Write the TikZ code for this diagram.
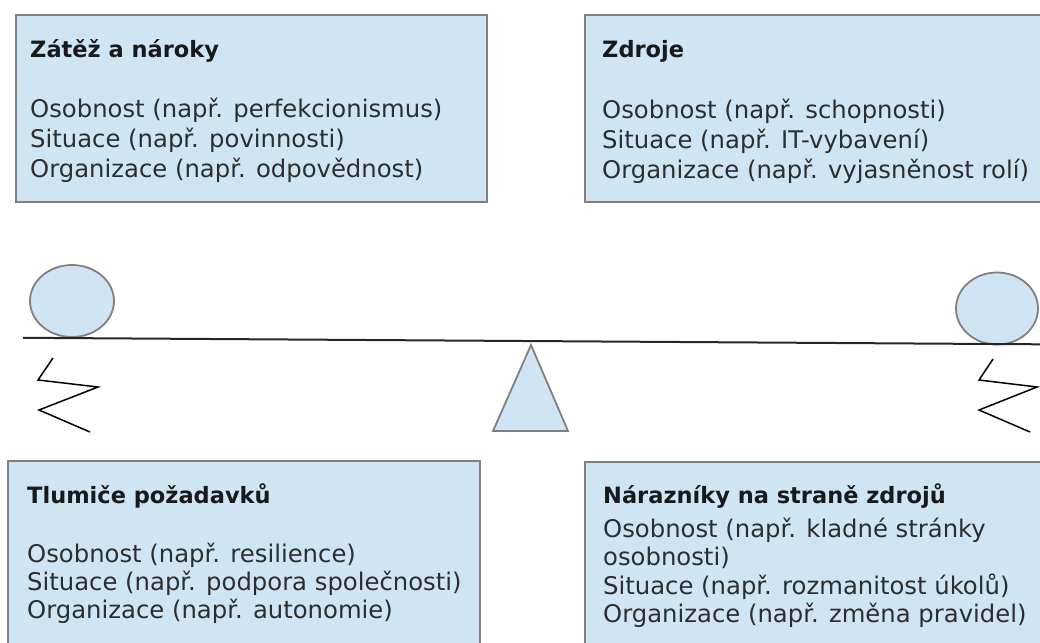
\documentclass[tikz,border=0pt]{standalone}
\usepackage{fontspec}
\setmainfont{DejaVu Sans}
\usetikzlibrary{positioning}

\definecolor{boxblue}{RGB}{207,229,243}
\definecolor{boxgray}{RGB}{128,128,128}
\definecolor{textgray}{RGB}{45,45,45}

\newcommand{\radky}[1]{\begin{tabular}[t]{@{}l@{}}#1\end{tabular}}

\begin{document}
\begin{tikzpicture}[x=1pt,y=-1pt,
    box/.style={draw=boxgray,fill=boxblue,line width=1.8pt,anchor=north west,inner sep=0pt},
    nadpis/.style={anchor=base west,inner sep=0pt,text=black!90,
      font=\fontsize{22.5}{27}\selectfont\bfseries},
    popis/.style={anchor=base west,inner sep=0pt,text=textgray,
      font=\fontsize{24.3}{30}\selectfont},
    uzky/.style={font=\fontsize{24.3}{28.3}\selectfont},
    koule/.style={draw=boxgray,fill=boxblue,line width=1.8pt},
    pruzina/.style={draw=black,line width=1.5pt},
    trám/.style={draw=black!85,line width=2pt}]
  \useasboundingbox (0,0) rectangle (1040,642);

  % boxes
  \node[box,minimum width=471pt,minimum height=187pt] (zatez)     at (15,14)  {};
  \node[box,minimum width=458pt,minimum height=187pt] (zdroje)    at (584,14) {};
  \node[box,minimum width=472pt,minimum height=186pt] (tlumice)   at (7,460)  {};
  \node[box,minimum width=458pt,minimum height=185pt] (narazniky) at (584,461) {};

  \node[nadpis] (zatezNadpis) at ([shift={(15,44)}]zatez.north west) {Zátěž a nároky};
  \node[popis]  (zatezText)   at ([shift={(15,103)}]zatez.north west)
    {\radky{Osobnost (např. perfekcionismus)\\ Situace (např. povinnosti)\\ Organizace (např. odpovědnost)}};

  \node[nadpis] (zdrojeNadpis) at ([shift={(18,44)}]zdroje.north west) {Zdroje};
  \node[popis]  (zdrojeText)   at ([shift={(18,104)}]zdroje.north west)
    {\radky{Osobnost (např. schopnosti)\\ Situace (např. IT-vybavení)\\ Organizace (např. vyjasněnost rolí)}};

  \node[nadpis] (tlumiceNadpis) at ([shift={(20,43)}]tlumice.north west) {Tlumiče požadavků};
  \node[popis,uzky] (tlumiceText) at ([shift={(20,102)}]tlumice.north west)
    {\radky{Osobnost (např. resilience)\\ Situace (např. podpora společnosti)\\ Organizace (např. autonomie)}};

  \node[nadpis] (nArazNadpis) at ([shift={(19,42)}]narazniky.north west) {Nárazníky na straně zdrojů};
  \node[popis,uzky] (narazText) at ([shift={(19,76)}]narazniky.north west)
    {\radky{Osobnost (např. kladné stránky\\ osobnosti)\\ Situace (např. rozmanitost úkolů)\\ Organizace (např. změna pravidel)}};

  % balance
  \draw[koule] (72,301) ellipse [x radius=42pt,y radius=36pt];
  \draw[koule] (997,308.5) ellipse [x radius=41pt,y radius=36pt];
  \draw[trám] (23,337.8) -- (1040,344.3);
  \draw[koule] (531,345) -- (568,431) -- (493,431) -- cycle;

  % springs
  \draw[pruzina] (53,358) -- (38,380) -- (98,387) -- (39,410) -- (90,432);
  \draw[pruzina] (993,359) -- (979,380) -- (1037,387) -- (979,410) -- (1030,432);
\end{tikzpicture}
\end{document}
